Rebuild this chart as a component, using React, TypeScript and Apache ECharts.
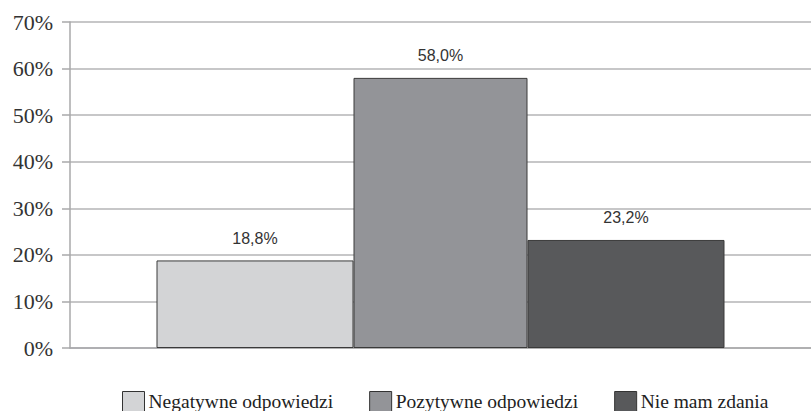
import React, { useEffect, useRef } from "react";
import * as echarts from "echarts";

const categories = [""];
const seriesNames = ["Negatywne odpowiedzi", "Pozytywne odpowiedzi", "Nie mam zdania"];
const seriesValues = [18.8, 58.0, 23.2];
const seriesColors = ["#d3d4d6", "#939498", "#58595b"];
const barWidths = [197, 174, 197];
const yTicks = [0, 10, 20, 30, 40, 50, 60, 70];

export default function App() {
  const ref = useRef<HTMLDivElement>(null);
  useEffect(() => {
    if (!ref.current) return;
    const chart = echarts.init(ref.current, null, { renderer: "svg" });
    chart.setOption({
      animation: false,
      backgroundColor: "#ffffff",
      textStyle: { fontFamily: "Liberation Serif" },
      grid: { left: 70, right: 0, top: 22, bottom: 63, containLabel: false },
      legend: {
        top: 391,
        left: 122,
        padding: 0,
        itemWidth: 22,
        itemHeight: 20,
        itemGap: 36,
        itemStyle: { borderColor: "#333", borderWidth: 1 },
        textStyle: { fontFamily: "Liberation Serif", fontSize: 19.5, color: "#222", padding: [0, 0, 0, -1] },
        data: seriesNames,
        icon: "rect",
      },
      xAxis: {
        type: "category",
        data: categories,
        axisLine: { show: true, lineStyle: { color: "#a8a8aa", width: 1.5 } },
        axisTick: { show: false },
        axisLabel: { show: false },
      },
      yAxis: {
        type: "value",
        min: yTicks[0],
        max: yTicks[yTicks.length - 1],
        interval: 10,
        axisLine: { show: true, lineStyle: { color: "#a8a8aa", width: 1.5 } },
        axisTick: { show: true, inside: false, length: 8, lineStyle: { color: "#a8a8aa", width: 1.5 } },
        splitLine: { show: true, lineStyle: { color: "#b4b4b6", width: 1.5 } },
        axisLabel: {
          formatter: "{value}%",
          fontFamily: "Liberation Serif",
          fontSize: 22,
          color: "#333",
          margin: 17,
        },
      },
      series: seriesNames.map((name, i) => ({
        name,
        type: "bar",
        data: [seriesValues[i]],
        barWidth: barWidths[i],
        barGap: "0%",
        itemStyle: { color: seriesColors[i], borderColor: "#3a3a3a", borderWidth: 1 },
        label: {
          show: true,
          position: "top",
          distance: 14,
          formatter: (p: any) => p.value.toFixed(1).replace(".", ",") + "%",
          fontFamily: "Liberation Sans",
          fontSize: 16,
          color: "#333",
        },
      })),
    });
    return () => chart.dispose();
  }, []);
  return <div ref={ref} style={{ width: 811, height: 411, position: "absolute", left: 0, top: 0 }} />;
}
